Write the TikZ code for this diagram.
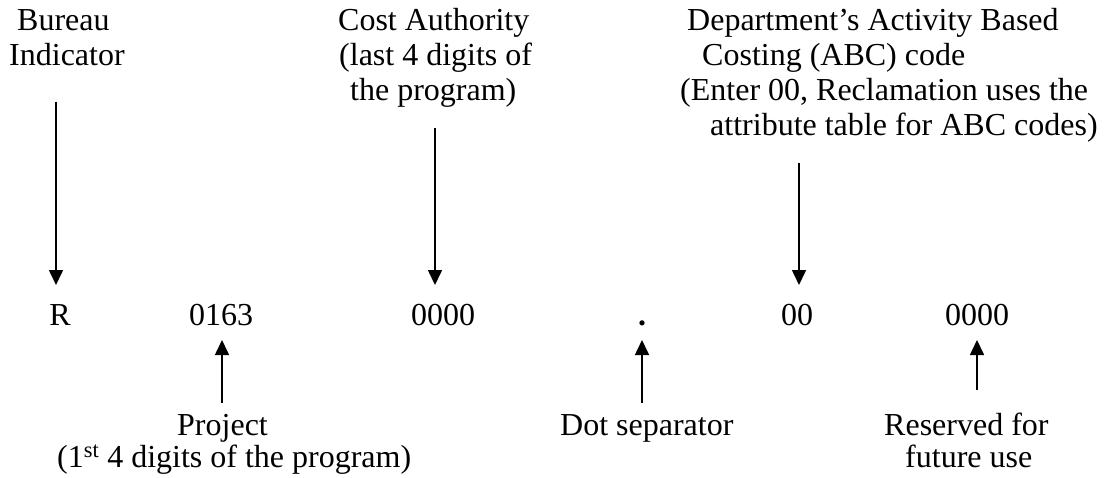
\documentclass[tikz,border=0pt]{standalone}
\usepackage{fontspec}
\setmainfont{Liberation Serif}
\usetikzlibrary{arrows.meta}
\newcommand\labfont{\fontsize{32}{34.7}\selectfont}
\newcommand\lines[1]{\begin{tabular}[t]{@{}l@{}}#1\end{tabular}}
\begin{document}
\begin{tikzpicture}[x=1pt,y=-1pt,
  lbl/.style={inner sep=0pt, anchor=base west, font=\labfont},
  code/.style={inner sep=0pt, anchor=base, font=\labfont},
  arr/.style={line width=1.6pt, -{Triangle[length=15pt,width=14pt]}}]
\useasboundingbox (0,0) rectangle (1107,478);
% top labels
\node[lbl] (bureau) at (9,31) {\lines{\hspace*{8pt}Bureau\\Indicator}};
\node[lbl] (cost) at (338,31) {\lines{Cost Authority\\\hspace*{1pt}(last 4 digits of\\\hspace*{12pt}the program)}};
\node[lbl] (abc) at (680,31) {\lines{\hspace*{7pt}Department’s Activity Based\\\hspace*{22pt}Costing (ABC) code\\(Enter 00, Reclamation uses the\\\hspace*{30pt}attribute table for ABC codes)}};
% code row
\node[code] (R) at (60,325) {R};
\node[code] (proj) at (221,325) {0163};
\node[code] (ca) at (443,325) {0000};
\node[code] (dot) at (642,325) {\textbf{.}};
\node[code] (dabc) at (797,325) {00};
\node[code] (res) at (977,325) {0000};
% bottom labels
\node[lbl] (projlbl) at (57,435) {\lines{\hspace*{120pt}Project\\[-2.7pt](1\textsuperscript{st} 4 digits of the program)}};
\node[lbl] (dotlbl) at (560,435) {Dot separator};
\node[lbl] (reslbl) at (884,435) {\lines{Reserved for\\[-2.7pt]\hspace*{21pt}future use}};
% arrow ends
\coordinate (a1s) at (56,102);  \coordinate (a1e) at (56,285);
\coordinate (a2s) at (435,128); \coordinate (a2e) at (435,285);
\coordinate (a3s) at (799,163); \coordinate (a3e) at (799,285);
\coordinate (b1s) at (222,403); \coordinate (b1e) at (222,340);
\coordinate (b2s) at (642,403); \coordinate (b2e) at (642,340);
\coordinate (b3s) at (977,390); \coordinate (b3e) at (977,340);
\draw[arr] (a1s) -- (a1e);
\draw[arr] (a2s) -- (a2e);
\draw[arr] (a3s) -- (a3e);
\draw[arr] (b1s) -- (b1e);
\draw[arr] (b2s) -- (b2e);
\draw[arr] (b3s) -- (b3e);
\end{tikzpicture}
\end{document}
